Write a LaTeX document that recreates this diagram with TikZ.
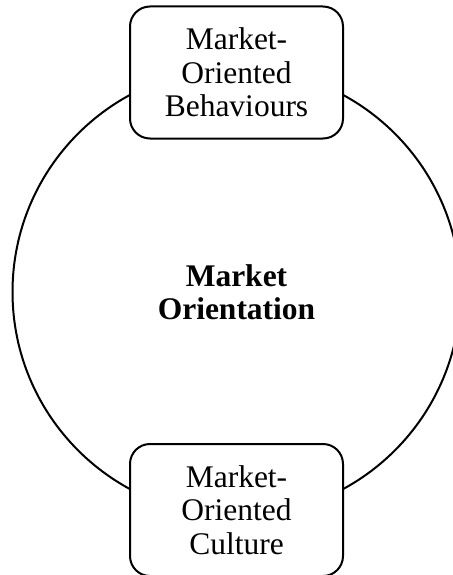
\documentclass[tikz,border=0pt]{standalone}
\usepackage{fontspec}
\setmainfont{Liberation Serif}
\usepackage{tikz}

\begin{document}
\begin{tikzpicture}[x=1pt,y=-1pt,line width=2pt,
	ring/.style={draw,circle,minimum size=448pt,inner sep=0pt,align=center,font=\fontsize{31.5}{33.5}\selectfont\bfseries},
	part/.style={draw,fill=white,rounded corners=20pt,minimum width=213pt,minimum height=132pt,inner sep=0pt,align=center,font=\fontsize{31.5}{33.5}\selectfont}]
				\useasboundingbox (0,0) rectangle (452,575);
				\node[ring] (mo) at (236.5,292) {Market\\Orientation};
				\node[part] (beh) at (236.5,72.5) {Market-\\Oriented\\Behaviours};
				\node[part] (cul) at (236.5,510) {Market-\\Oriented\\Culture};
			\end{tikzpicture}
\end{document}
